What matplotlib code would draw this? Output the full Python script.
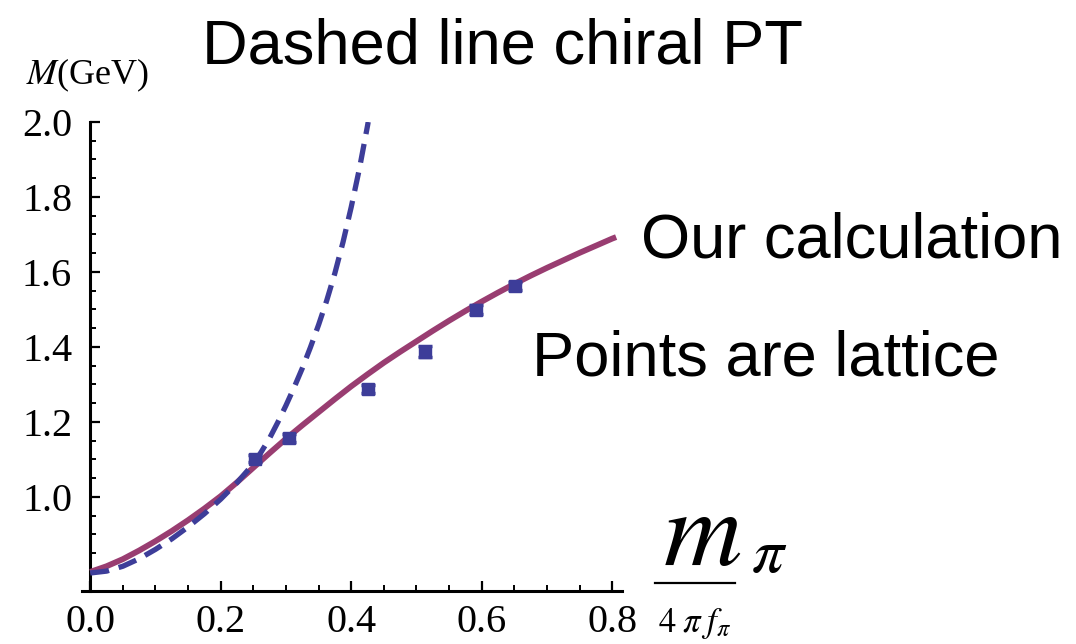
import numpy as np
import matplotlib
matplotlib.use("Agg")
import matplotlib.pyplot as plt
from matplotlib.lines import Line2D
from matplotlib.ticker import MultipleLocator, FixedLocator, FormatStrFormatter

# chiral PT (dashed)
chpt_x = [0.0, 0.025, 0.05, 0.075, 0.1, 0.125, 0.15, 0.175, 0.2, 0.225, 0.25,
          0.2625, 0.275, 0.2875, 0.3, 0.3125, 0.325, 0.3375, 0.35, 0.3625,
          0.375, 0.3875, 0.4, 0.4125, 0.425, 0.426]
chpt_y = [0.797, 0.802, 0.815, 0.835, 0.860, 0.888, 0.920, 0.955, 0.994, 1.038, 1.088,
          1.121, 1.157, 1.199, 1.244, 1.292, 1.343, 1.399, 1.459, 1.524,
          1.597, 1.680, 1.773, 1.875, 1.990, 2.0]

# "our calculation" (solid)
calc_x = [0.0, 0.025, 0.05, 0.075, 0.1, 0.125, 0.15, 0.175, 0.2, 0.225, 0.25,
          0.275, 0.3, 0.325, 0.35, 0.375, 0.4, 0.425, 0.45, 0.475, 0.5, 0.525,
          0.55, 0.575, 0.6, 0.625, 0.65, 0.675, 0.7, 0.725, 0.75, 0.775, 0.8, 0.806]
calc_y = [0.800, 0.815, 0.834, 0.857, 0.882, 0.909, 0.938, 0.969, 1.002, 1.039, 1.078,
          1.117, 1.155, 1.191, 1.226, 1.261, 1.295, 1.327, 1.358, 1.387, 1.415, 1.443,
          1.470, 1.496, 1.521, 1.545, 1.568, 1.590, 1.611, 1.631, 1.651, 1.670, 1.689, 1.693]

# lattice points
lat_x = [0.253, 0.305, 0.426, 0.513, 0.592, 0.651]
lat_y = [1.102, 1.157, 1.288, 1.387, 1.499, 1.563]
lat_err = [0.010, 0.010, 0.010, 0.015, 0.012, 0.010]

blue = "#3d3d99"
purple = "#993d71"

plt.rcParams["mathtext.fontset"] = "stix"
plt.rcParams["font.family"] = ["Liberation Serif", "DejaVu Serif"]

W, H = 1076, 644
fig = plt.figure(figsize=(W / 100, H / 100), dpi=100)

# axes box in pixels: x from 82 to 622, y from 122 to 591
ax = fig.add_axes([82 / W, 1 - 591 / H, 540 / W, 469 / H])
ax.set_xlim(-0.0126, 0.8150)
ax.set_ylim(0.749, 2.0)

ax.plot(calc_x, calc_y, color=purple, lw=4.2, solid_capstyle="butt", zorder=3)
ax.plot(chpt_x, chpt_y, color=blue, lw=3.8, dashes=(3.6, 1.9), dash_capstyle="butt", zorder=4)
ax.errorbar(lat_x, lat_y, yerr=lat_err, fmt="s", ms=8.5, color=blue, ecolor=blue,
            elinewidth=2.5, capsize=5, capthick=2.5, zorder=5)

for s in ["top", "right"]:
    ax.spines[s].set_visible(False)
ax.spines["left"].set_position(("data", 0))
ax.spines["left"].set_linewidth(2.2)
ax.spines["bottom"].set_linewidth(2.2)

ax.xaxis.set_major_locator(FixedLocator([0.0, 0.2, 0.4, 0.6, 0.8]))
ax.xaxis.set_minor_locator(MultipleLocator(0.05))
ax.yaxis.set_major_locator(FixedLocator([1.0, 1.2, 1.4, 1.6, 1.8, 2.0]))
ax.yaxis.set_minor_locator(FixedLocator(np.arange(0.8, 1.99, 0.05)))
ax.xaxis.set_major_formatter(FormatStrFormatter("%.1f"))
ax.yaxis.set_major_formatter(FormatStrFormatter("%.1f"))

ax.tick_params(axis="both", which="major", direction="in", length=7, width=1.6,
               labelsize=29, colors="black")
ax.tick_params(axis="both", which="minor", direction="in", length=4, width=1.4)
ax.tick_params(axis="x", which="major", pad=9)
ax.tick_params(axis="y", which="major", pad=13)

# y label
fig.text(26 / W, 1 - 84 / H, r"$M$(GeV)", fontsize=26, ha="left", va="baseline")

# x label: m_pi / (4 pi f_pi) with the big overlaid m and pi
fig.add_artist(Line2D([655 / W, 735 / W], [1 - 583 / H, 1 - 583 / H],
                      color="black", lw=1.6, transform=fig.transFigure))
fig.text(695 / W, 1 - 632 / H, r"$4\;\pi\;f_\pi$", fontsize=25, ha="center", va="baseline")
fig.text(663 / W, 1 - 565 / H, r"$m$", fontsize=78, ha="left", va="baseline")
fig.text(751 / W, 1 - 572 / H, r"$\pi$", fontsize=46, ha="left", va="baseline")

# annotations
sans = ["Liberation Sans", "DejaVu Sans"]
fig.text(502 / W, 1 - 63 / H, "Dashed line chiral PT", fontsize=45.5, family=sans,
         ha="center", va="baseline")
fig.text(641 / W, 1 - 257 / H, "Our calculation", fontsize=45.5, family=sans,
         ha="left", va="baseline")
fig.text(532 / W, 1 - 375 / H, "Points are lattice", fontsize=45.5, family=sans,
         ha="left", va="baseline")

fig.savefig("out.png", dpi=100, facecolor="white")
